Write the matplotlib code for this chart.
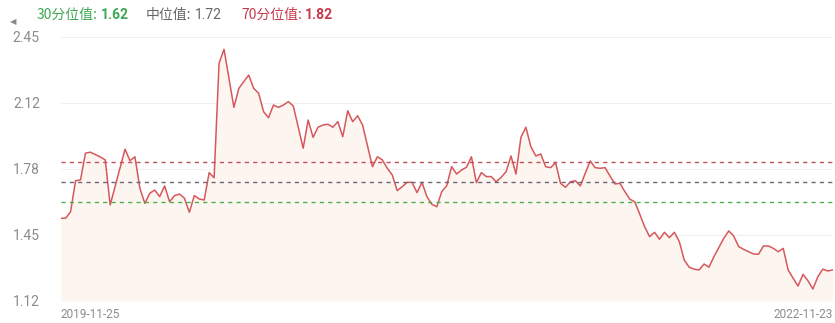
import matplotlib
matplotlib.use("Agg")
import matplotlib.pyplot as plt
import numpy as np

plt.rcParams['font.family'] = ['Noto Sans CJK SC', 'DejaVu Sans']

# weekly values, 2019-11-25 .. 2022-11-23
values = [
    1.536, 1.536, 1.569, 1.725, 1.729, 1.864, 1.869, 1.857, 1.845, 1.830,
    1.603, 1.697, 1.790, 1.884, 1.826, 1.846, 1.687, 1.611, 1.662, 1.678,
    1.645, 1.699, 1.619, 1.650, 1.658, 1.637, 1.566, 1.650, 1.633, 1.628,
    1.766, 1.740, 2.317, 2.388, 2.240, 2.095, 2.191, 2.225, 2.258, 2.191,
    2.166, 2.073, 2.043, 2.107, 2.095, 2.107, 2.124, 2.102, 1.996, 1.889,
    2.031, 1.944, 1.995, 2.006, 2.010, 1.995, 2.023, 1.947, 2.078, 2.023,
    2.053, 2.006, 1.900, 1.796, 1.846, 1.830, 1.788, 1.754, 1.675, 1.695,
    1.717, 1.717, 1.665, 1.717, 1.645, 1.606, 1.594, 1.670, 1.700, 1.796,
    1.759, 1.779, 1.793, 1.846, 1.715, 1.766, 1.746, 1.746, 1.720, 1.742,
    1.771, 1.850, 1.759, 1.944, 1.995, 1.897, 1.850, 1.860, 1.796, 1.791,
    1.816, 1.712, 1.692, 1.720, 1.725, 1.699, 1.763, 1.825, 1.791, 1.788,
    1.791, 1.749, 1.709, 1.712, 1.670, 1.632, 1.619, 1.557, 1.493, 1.443,
    1.465, 1.430, 1.465, 1.438, 1.465, 1.418, 1.325, 1.289, 1.279, 1.275,
    1.305, 1.289, 1.342, 1.389, 1.435, 1.472, 1.446, 1.393, 1.379, 1.367,
    1.356, 1.354, 1.396, 1.396, 1.384, 1.367, 1.384, 1.275, 1.233, 1.194,
    1.253, 1.221, 1.179, 1.241, 1.279, 1.270, 1.275,
]
date_labels = ["2019-11-25", "2022-11-23"]
y_ticks = [1.12, 1.4525, 1.785, 2.1175, 2.45]
y_labels = ["1.12", "1.45", "1.78", "2.12", "2.45"]

p30, p50, p70 = 1.62, 1.72, 1.82

W, H = 835, 323
fig = plt.figure(figsize=(W / 100, H / 100), dpi=100)
ax = fig.add_axes([60.7 / W, 1 - 300.7 / H, (832.7 - 60.7) / W, (300.7 - 37) / H])

x = np.arange(len(values))
ax.fill_between(x, values, 1.12, color="#fdf6f0", lw=0)
ax.plot(x, values, color="#d5585c", lw=1.1)

ax.axhline(p70, color="#c2505a", ls=(0, (3, 3)), lw=1.0)
ax.axhline(p50, color="#6e6674", ls=(0, (3, 3)), lw=1.0)
ax.axhline(p30, color="#4cb050", ls=(0, (3, 3)), lw=1.0)

ax.set_xlim(0, len(values) - 1)
ax.set_ylim(1.12, 2.45)
ax.set_yticks(y_ticks)
ax.set_yticklabels(y_labels, color="#8c8c8c", fontsize=10, family="Roboto")
ax.tick_params(axis="y", length=0, pad=15)
ax.set_xticks([])
for yt in y_ticks:
    ax.axhline(yt, color="#f0f0f0", lw=0.8, zorder=0)
for s in ax.spines.values():
    s.set_visible(False)
ax.patch.set_alpha(0)

# bottom date labels
fig.text(60 / W, 1 - 315 / H, date_labels[0], color="#8c8c8c", fontsize=8.5,
         family="Roboto", ha="left", va="center")
fig.text(833 / W, 1 - 315 / H, date_labels[1], color="#8c8c8c", fontsize=8.5,
         family="Roboto", ha="right", va="center")

# header with percentile values: label then value, placed side by side
renderer = fig.canvas.get_renderer()
hy = 1 - 15 / H


def header_item(x_px, label, value, color, bold):
    t = fig.text(x_px / W, hy, label, color=color, fontsize=10, va="center")
    bb = t.get_window_extent(renderer)
    fig.text((bb.x1 + 3) / W, hy, f"{value:.2f}", color=color, fontsize=10,
             va="center", family="Roboto",
             fontweight="bold" if bold else "normal")


fig.text(10 / W, 1 - 22 / H, "◀", color="#888888", fontsize=6, va="center",
         family="DejaVu Sans")
header_item(37, "30分位值:", p30, "#3da852", True)
header_item(146, "中位值:", p50, "#666666", False)
header_item(241, "70分位值:", p70, "#c9384a", True)

fig.savefig("out.png", dpi=100)
